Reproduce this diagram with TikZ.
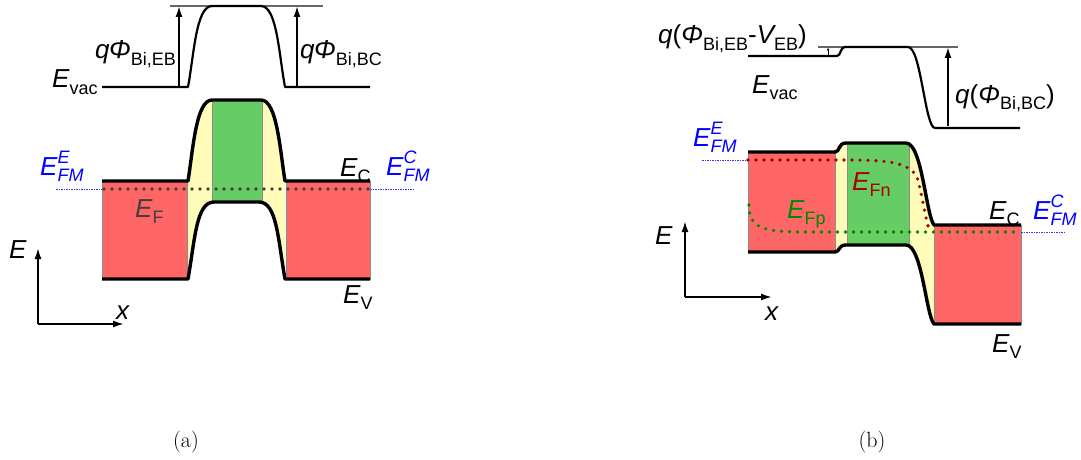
\documentclass[tikz,border=0pt]{standalone}
\usepackage{fontspec}
\newfontfamily\lsans{Liberation Sans}
\usetikzlibrary{arrows.meta}
\definecolor{cred}{HTML}{FF6666}
\definecolor{cgreen}{HTML}{66CC66}
\definecolor{cyel}{HTML}{FFFBB8}
\definecolor{fnred}{HTML}{AA0000}
\definecolor{fpgreen}{HTML}{008800}
\definecolor{fmblue}{HTML}{3333FF}
\newcommand\sbs[1]{\raisebox{-0.25em}{\fontsize{18}{18}\selectfont\upshape #1}}
\newcommand\efm[1]{{\itshape E\rlap{\raisebox{0.45em}{\fontsize{18}{18}\selectfont #1}}\raisebox{-0.26em}{\fontsize{18}{18}\selectfont FM}}}
\begin{document}
\begin{tikzpicture}[x=1pt,y=-1pt,
  band/.style={line width=3.4pt, line join=round},
  vac/.style={line width=2.2pt, line join=round},
  lab/.style={inner sep=0pt, anchor=base west, font=\lsans\fontsize{26}{30}\selectfont},
  ar/.style={line width=1.8pt, -{Latex[length=11pt,width=7pt]}},
  smallar/.style={line width=0.7pt, -{Latex[length=3pt,width=2.5pt]}},
  efdot/.style={line width=3.6pt, line cap=round, dash pattern=on 0pt off 8pt},
  fmdot/.style={fmblue, line width=1pt, dash pattern=on 1.5pt off 1pt},
  regbox/.style={draw=black!45, line width=0.8pt},
  refline/.style={black!60, line width=1.2pt},
  captext/.style={inner sep=0pt, anchor=base, font=\fontsize{22}{26}\selectfont}]
\useasboundingbox (0,0) rectangle (1081,460);

% ================= panel (a) =================
% yellow depletion regions
\fill[cyel] (188,181) .. controls (193,150) and (196,100) .. (212,100) -- (261,100)
  .. controls (277,100) and (280,150) .. (285,181) -- (285,279)
  .. controls (278,240) and (277,202) .. (259,202) -- (214,202)
  .. controls (196,202) and (195,240) .. (188,279) -- cycle;
\path[fill=cgreen, regbox] (212,100) rectangle (262,202);
\path[fill=cred, regbox] (102,181) rectangle (187,279);
\path[fill=cred, regbox] (286,181) rectangle (370,279);
% Fermi levels
\draw[fmdot] (56,189) -- (102,189);
\draw[fmdot] (370,189) -- (415,189);
\draw[efdot, black!75] (104,189) -- (370,189);
% bands
\draw[band] (102,181) -- (188,181) .. controls (193,150) and (196,100) .. (212,100) -- (261,100)
  .. controls (277,100) and (280,150) .. (285,181) -- (370,181);
\draw[band] (102,279) -- (188,279) .. controls (195,240) and (196,202) .. (214,202) -- (259,202)
  .. controls (277,202) and (278,240) .. (285,279) -- (370,279);
% vacuum level
\draw[refline] (170,6) -- (323,6);
\draw[vac] (102,87) -- (188,87) .. controls (194,55) and (196,6) .. (212,6) -- (261,6)
  .. controls (277,6) and (279,55) .. (285,87) -- (370,87);
\coordinate (a1b) at (179,87); \coordinate (a1t) at (179,6);
\coordinate (a2b) at (297,87); \coordinate (a2t) at (297,6);
\draw[ar] (a1b) -- (a1t);
\draw[ar] (a2b) -- (a2t);
% axes
\coordinate (ao) at (38,324); \coordinate (ay) at (38,248); \coordinate (ax) at (124,324);
\draw[ar] (ao) -- (ay);
\draw[ar] (ao) -- (ax);
% labels
\node[lab, anchor=base east] (qa1) at (176,59) {{\itshape q\kern-0.5pt Φ}\sbs{Bi,EB}};
\node[lab] (qa2) at (300,59) {{\itshape q\kern-0.5pt Φ}\sbs{Bi,BC}};
\node[lab] (evaca) at (52,88) {{\itshape E}\sbs{vac}};
\node[lab, text=blue] (efmea) at (40,175) {\efm{E}};
\node[lab, text=blue] (efmca) at (386,175) {\efm{C}};
\node[lab] (eca) at (340,176) {{\itshape E}\sbs{C}};
\node[lab, text=black!75] (efa) at (135,217) {{\itshape E}\sbs{F}};
\node[lab] (eva) at (343,303) {{\itshape E}\sbs{V}};
\node[lab] (eaxa) at (9,258) {\itshape E};
\node[lab] (xaxa) at (116,319) {\itshape x};
\node[captext] (capa) at (186,447) {(a)};

% ================= panel (b) =================
\fill[cyel] (835,152) .. controls (840,152) and (838,143) .. (846,143) -- (906,143)
  .. controls (922,143) and (926,215) .. (934,225) -- (934,324)
  .. controls (926,315) and (922,245) .. (906,245) -- (846,245)
  .. controls (838,245) and (840,252) .. (835,252) -- cycle;
\path[fill=cgreen, regbox] (847,143) rectangle (909,245);
\path[fill=cred, regbox] (748,152) rectangle (835,252);
\path[fill=cred, regbox] (934,225) rectangle (1021,324);
% Fermi levels
\draw[fmdot] (702,160) -- (748,160);
\draw[fmdot] (1021,232) -- (1066,232);
\draw[efdot, fnred] (748,160) -- (840,160) .. controls (880,160) and (912,160) .. (918,180)
  .. controls (923,200) and (926,222) .. (930,232);
\draw[efdot, fpgreen] (749,205) .. controls (749,228) and (762,232) .. (805,232) -- (1021,232);
% bands
\draw[band] (748,152) -- (835,152) .. controls (840,152) and (838,143) .. (846,143) -- (906,143)
  .. controls (922,143) and (926,215) .. (934,225) -- (1021,225);
\draw[band] (748,252) -- (835,252) .. controls (840,252) and (838,245) .. (846,245) -- (906,245)
  .. controls (922,245) and (926,315) .. (934,324) -- (1021,324);
% vacuum level
\draw[refline] (818,47) -- (958,47);
\draw[vac] (748,56) -- (837,56) .. controls (841,56) and (840,47) .. (845,47) -- (908,47)
  .. controls (921,47) and (925,128) .. (935,128) -- (1020,128);
\coordinate (b0b) at (828,56); \coordinate (b0t) at (828,47.5);
\coordinate (b1b) at (948,126); \coordinate (b1t) at (948,47);
\draw[smallar] (b0b) -- (b0t);
\draw[ar] (b1b) -- (b1t);
% axes
\coordinate (bo) at (685,297); \coordinate (by) at (685,221); \coordinate (bx) at (772,297);
\draw[ar] (bo) -- (by);
\draw[ar] (bo) -- (bx);
% labels
\node[lab] (qb1) at (658,44) {{\itshape q}({\itshape Φ}\sbs{Bi,EB}-{\itshape V}\sbs{EB})};
\node[lab] (evacb) at (752,93) {{\itshape E}\sbs{vac}};
\node[lab] (qb2) at (955,103) {{\itshape q}({\itshape Φ}\sbs{Bi,BC})};
\node[lab, text=blue] (efmeb) at (693,146) {\efm{E}};
\node[lab, text=blue] (efmcb) at (1033,219) {\efm{C}};
\node[lab, text=fnred] (efn) at (852,190) {{\itshape E}\sbs{Fn}};
\node[lab, text=fpgreen] (efp) at (787,218) {{\itshape E}\sbs{Fp}};
\node[lab] (ecb) at (989,219) {{\itshape E}\sbs{C}};
\node[lab] (evb) at (992,352) {{\itshape E}\sbs{V}};
\node[lab] (eaxb) at (655,244) {\itshape E};
\node[lab] (xaxb) at (765,320) {\itshape x};
\node[captext] (capb) at (872,447) {(b)};
\end{tikzpicture}
\end{document}
